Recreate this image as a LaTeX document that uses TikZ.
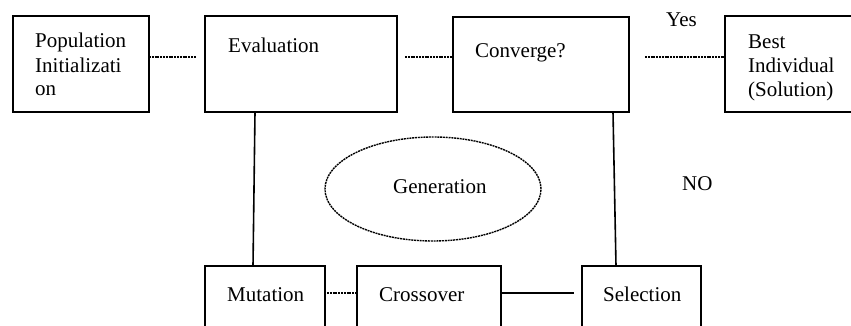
\documentclass[tikz,border=0pt]{standalone}
\usepackage{fontspec}
\setmainfont{Liberation Serif}
\begin{document}
\begin{tikzpicture}[x=1pt,y=-1pt,
  box/.style={draw,line width=1.6pt,rectangle,outer sep=0pt,inner sep=0pt,anchor=north west},
  txt/.style={anchor=base west,inner sep=0pt,font=\fontsize{21}{24}\selectfont,align=left},
  dotline/.style={line width=1.4pt,dash pattern=on 2pt off 0.8pt},
  solidline/.style={line width=1.6pt}]
\clip (0,0) rectangle (851,326);
\fill[white] (0,0) rectangle (851,326);
% boxes
\node[box,minimum width=136pt,minimum height=96pt] (pop) at (13,16) {};
\node[box,minimum width=192pt,minimum height=96pt] (eval) at (205,16) {};
\node[box,minimum width=176pt,minimum height=95pt] (conv) at (453,17) {};
\node[box,minimum width=150pt,minimum height=96pt] (best) at (725,16) {};
\node[box,minimum width=120pt,minimum height=80pt] (mut) at (205,266) {};
\node[box,minimum width=144pt,minimum height=80pt] (cross) at (357,266) {};
\node[box,minimum width=119pt,minimum height=80pt] (sel) at (582,266) {};
\draw[dotline] (433,189) ellipse (108pt and 52pt);
\node[inner sep=0pt,minimum width=216pt,minimum height=104pt] (gen) at (433,189) {};
% texts (multi-line: base = last line)
\node[txt] (tpop) at (35,96) {Population\\Initializati\\on};
\node[txt] (teval) at (228,53) {Evaluation};
\node[txt] (tconv) at (475,58) {Converge?};
\node[txt] (tbest) at (748,97) {Best\\Individual\\(Solution)};
\node[txt] (tyes) at (666,27) {Yes};
\node[txt] (tno) at (682,190) {NO};
\node[txt] (tgen) at (393,193) {Generation};
\node[txt] (tmut) at (227,301) {Mutation};
\node[txt] (tcross) at (379,301) {Crossover};
\node[txt] (tsel) at (603,301) {Selection};
% connector ends
\coordinate (c1) at (196,57);
\coordinate (c2) at (405,57);
\coordinate (c3) at (645,57);
\coordinate (c4) at (327,293);
\coordinate (c5) at (574,293);
% connectors
\draw[dotline] (pop.east |- c1) -- (c1);
\draw[dotline] (c2) -- (conv.west |- c2);
\draw[dotline] (c3) -- (best.west |- c3);
\draw[solidline] (eval.south -| 255,0) -- (mut.north -| 253,0);
\draw[solidline] (conv.south -| 613,0) -- (sel.north -| 616,0);
\draw[dotline] (c4) -- (cross.west |- c4);
\draw[solidline] (cross.east |- c5) -- (c5);
\end{tikzpicture}
\end{document}
